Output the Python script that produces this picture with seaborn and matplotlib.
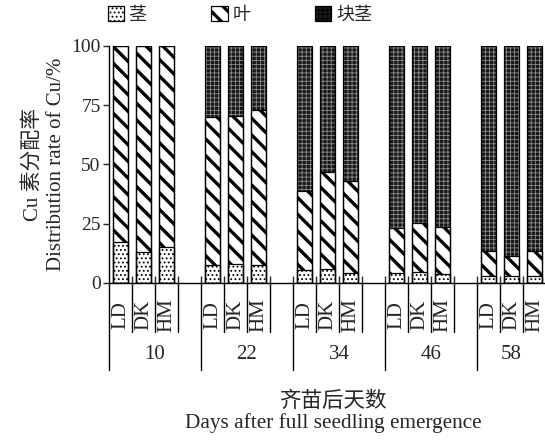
import numpy as np
import pandas as pd
import matplotlib
matplotlib.use('Agg')
import matplotlib.pyplot as plt
import matplotlib.patches as mpatches
import seaborn as sns

# Cu distribution rate (%) by organ, days after full seedling emergence
days = ['10', '22', '34', '46', '58']
varieties = ['LD', 'DK', 'HM']
stem = [17.2, 12.9, 15.2,
        7.4, 8.2, 7.8,
        5.3, 6.0, 4.4,
        4.3, 4.7, 3.6,
        3.0, 2.8, 3.1]
leaf = [82.8, 87.1, 84.8,
        62.7, 62.1, 65.3,
        33.5, 40.9, 38.8,
        19.1, 20.8, 20.2,
        10.6, 8.7, 10.2]
tuber = [0.0, 0.0, 0.0,
         29.9, 29.7, 26.9,
         61.2, 53.1, 56.8,
         76.6, 74.5, 76.2,
         86.4, 88.5, 86.7]
legend_labels = ['茎', '叶', '块茎']

serif = ['Liberation Serif', 'Noto Sans CJK SC']
cjk = ['Noto Sans CJK SC', 'DejaVu Sans']

sns.set_style('ticks')
plt.rcParams['font.family'] = serif
plt.rcParams['hatch.linewidth'] = 2.4

n_var = len(varieties)
slot = n_var + 1
rows = []
for g, d in enumerate(days):
    for i, v in enumerate(varieties):
        k = g * n_var + i
        rows.append({'pos': g * slot + i, 'day': d, 'variety': v,
                     'stem': stem[k], 'leaf': leaf[k], 'tuber': tuber[k]})
df = pd.DataFrame(rows)
df['top_leaf'] = df['stem'] + df['leaf']
df['top_tuber'] = df['top_leaf'] + df['tuber']

fig = plt.figure(figsize=(5.45, 4.41), dpi=100)
ax = fig.add_axes([0.2, 0.3583, 0.8018, 0.5374])

# column, face, hatch, hatch colour, hatch lw
styles = {
    'top_tuber': ('#181818', '++++', '#8a8a8a', 0.6),
    'top_leaf': ('white', '\\\\', 'black', 2.4),
    'stem': ('white', '....', 'black', 0.8),
}
for col, (face, hatch, hcol, hlw) in styles.items():
    n0 = len(ax.patches)
    sns.barplot(data=df, x='pos', y=col, native_scale=True, width=0.65,
                color=face, saturation=1, errorbar=None, ax=ax)
    for p in ax.patches[n0:]:
        p.set_facecolor(face)
        p.set_hatch(hatch)
        p.set_edgecolor(hcol)
        p.set_linewidth(0)
        if hasattr(p, 'set_hatch_linewidth'):
            p.set_hatch_linewidth(hlw)

# black outlines over every segment
for col in styles:
    n0 = len(ax.patches)
    sns.barplot(data=df, x='pos', y=col, native_scale=True, width=0.65,
                color='white', saturation=1, errorbar=None, ax=ax)
    for p in ax.patches[n0:]:
        p.set_facecolor('none')
        p.set_edgecolor('black')
        p.set_linewidth(0.9)

n_slots = len(days) * slot - 1
ax.set_xlim(-0.5, n_slots - 0.5)
ax.set_ylim(0, 100)
ax.set_yticks([0, 25, 50, 75, 100])
ax.tick_params(axis='y', direction='out', length=4, width=1, labelsize=14, pad=2)
ax.set_xticks(np.arange(0.5, n_slots - 0.5, 1.0))
ax.set_xticklabels([])
ax.tick_params(axis='x', direction='in', length=5, width=1)
ax.set_xlabel('')
ax.set_ylabel('')
for s in ['top', 'right']:
    ax.spines[s].set_visible(False)
for s in ['left', 'bottom']:
    ax.spines[s].set_linewidth(1)
    ax.spines[s].set_color('black')

# two-level category axis below the bars
tr = ax.get_xaxis_transform()
for g, d in enumerate(days):
    start = g * slot - 0.5
    ax.plot([start, start], [0, -0.367], color='black', lw=1,
            transform=tr, clip_on=False)
    for i, v in enumerate(varieties):
        x = g * slot + i
        ax.plot([x + 0.5, x + 0.5], [0, -0.207], color='black', lw=1,
                transform=tr, clip_on=False)
        ax.text(x, -0.135, v, rotation=90, ha='center', va='center',
                fontsize=15, family=serif, transform=tr)
    end = min(start + slot, n_slots - 0.5)
    ax.text((start + end) / 2, -0.30, d, ha='center', va='center',
            fontsize=15, family=serif, transform=tr)

fig.text(0.0606, 0.628, 'Cu 素分配率', rotation=90, ha='center', va='center',
         fontsize=15, family=serif)
fig.text(0.1028, 0.628, 'Distribution rate of Cu/%', rotation=90,
         ha='center', va='center', fontsize=15, family=serif)
fig.text(0.611, 0.0907, '齐苗后天数', ha='center', va='center',
         fontsize=15.5, family=cjk)
fig.text(0.611, 0.0408, 'Days after full seedling emergence', ha='center',
         va='center', fontsize=15.3, family=serif)

handles = [mpatches.Patch(facecolor=styles[c][0], edgecolor=styles[c][2],
                          hatch=styles[c][1], lw=0.9)
           for c in ['stem', 'top_leaf', 'top_tuber']]
leg = fig.legend(handles, legend_labels, loc='center', bbox_to_anchor=(0.44, 0.966),
                 ncol=3, frameon=False, handlelength=0.9, handleheight=0.9,
                 handletextpad=0.25, columnspacing=3.6,
                 prop={'family': cjk, 'size': 13})
for p, c in zip(leg.get_patches(), ['stem', 'top_leaf', 'top_tuber']):
    p.set_edgecolor('black')
    if hasattr(p, 'set_hatch_linewidth'):
        p.set_hatch_linewidth(styles[c][3])

fig.savefig('out.png', dpi=100)
